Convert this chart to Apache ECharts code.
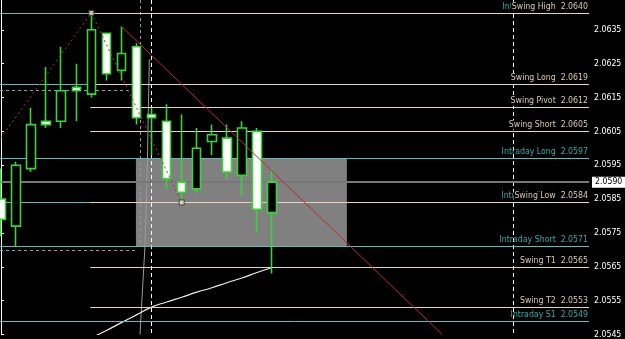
<!DOCTYPE html>
<html><head><meta charset="utf-8">
<script src="https://cdn.jsdelivr.net/npm/echarts@6/dist/echarts.min.js"></script>
<style>html,body{margin:0;padding:0;background:#000}#c{width:625px;height:339px}</style>
</head><body><div id="c"></div>
<script>
// ---- data ----
const candleIndex = [0,1,2,3,4,5,6,7,8,9,10,11,12,13,14,15,16,17,18];
const opens  = [2.0579,2.0595,2.0607,2.0607,2.0617,2.0617,2.0635,2.0622,2.0628,2.0609,2.0609,2.0591,2.0587,2.0600,2.0604,2.0593,2.0606,2.0582,2.0590];
const closes = [2.0585,2.0577,2.0594,2.0608,2.0608,2.0618,2.0616,2.0634,2.0623,2.0630,2.0610,2.0608,2.0590,2.0588,2.0602,2.0603,2.0592,2.0605,2.0581];
const lows   = [2.0574,2.0571,2.0593,2.0606,2.0606,2.0608,2.0615,2.0620,2.0620,2.0607,2.0598,2.0588,2.0584,2.0587,2.0598,2.0591,2.0586,2.0575,2.0563];
const highs  = [2.0594,2.0596,2.0612,2.0624,2.0630,2.0625,2.0640,2.0634,2.0636,2.0631,2.0612,2.0613,2.0610,2.0606,2.0607,2.0607,2.0608,2.0606,2.0594];

const bidPrice = 2.0590;

const swingNames  = ['Swing High','Swing Long','Swing Pivot','Swing Short','Swing Low','Swing T1','Swing T2'];
const swingValues = [2.0640,2.0619,2.0612,2.0605,2.0584,2.0565,2.0553];
const intradayNames  = ['Intraday High','','Intraday Long','Intraday Pivot','Intraday Short','Intraday S1'];
const intradayValues = [2.0640,2.0619,2.0597,2.0584,2.0571,2.0549];

const zoneX = [8.96, 22.97];
const zoneY = [2.0571, 2.0597];

const prevDayHigh = 2.0617, prevDayLow = 2.0570;
const prevDayEndX = [8.45, 8.97, 9.23];

const separatorX = [10, 34];

const zigzagX = [-1, 6, 12];
const zigzagY = [2.0597, 2.0640, 2.0584];

const trendX = [8, 29.3];
const trendY = [2.0636, 2.0545];

const maX = [6,7,8,9,10,11,12,13,14,15,16,17,18];
const maY = [2.05440,2.05462,2.05485,2.05508,2.05531,2.05546,2.05560,2.05575,2.05588,2.05603,2.05617,2.05633,2.05648];

const grayX = [9.23, 9.56, 9.70, 9.80, 9.85];
const grayY = [2.0545, 2.05709, 2.05913, 2.06146, 2.06263];

const X_MIN = -0.0664, X_MAX = 39.05;
const Y_MIN = 2.0545, Y_MAX = 2.06438;

// ---- font selection (narrow font if installed) ----
function fontAvailable(name){
  const c = document.createElement('canvas').getContext('2d');
  const t = 'Intraday Long 2.0597 mmmWWWiii';
  c.font = '40px monospace'; const w1 = c.measureText(t).width;
  c.font = '40px "' + name + '", monospace'; const w2 = c.measureText(t).width;
  c.font = '40px serif'; const w3 = c.measureText(t).width;
  c.font = '40px "' + name + '", serif'; const w4 = c.measureText(t).width;
  return Math.abs(w1 - w2) > 0.5 || Math.abs(w3 - w4) > 0.5;
}
const fontCandidates = ['DejaVu Sans Condensed','Liberation Sans Narrow','Roboto Condensed','Open Sans Condensed','Noto Sans Condensed','Liberation Sans'];
const FONT_NAME = fontCandidates.find(fontAvailable) || 'sans-serif';
const FONT = '"' + FONT_NAME + '", sans-serif';
const FS = (function(){
  const c = document.createElement('canvas').getContext('2d');
  c.font = '11px ' + FONT;
  const w = c.measureText('Intraday Long  2.0597').width;
  return Math.min(11, Math.round(11 * 87 / w * 10) / 10);
})();

// ---- styles ----
const PEACH = '#e6d2bd', PEACH_TXT = '#d9c9b2';
const CYAN = '#5cbdbd', CYAN_TXT = '#35aaaa';
const GREEN = '#3ad43a';
const SWING_START = 5.93;

function zip(xs, ys){ return xs.map((x,i)=>[x, ys[i]]); }

const candleData = candleIndex.map((x,i)=>[x, opens[i], closes[i], lows[i], highs[i]]);

function levelLines(names, values, x0, lineColor, txtColor, bg){
  return values.map((v,i)=>[
    {coord:[x0, v], lineStyle:{color:lineColor, width:1, type:'solid'},
     label:{show: names[i] !== '', position:'insideEndTop', distance:[1,2],
       formatter: names[i] + '  ' + v.toFixed(4), color: txtColor, fontSize:FS, fontFamily:FONT,
       backgroundColor: bg, padding:[0,0,0,1]}},
    {coord:[X_MAX, v]}
  ]);
}

const chart = echarts.init(document.getElementById('c'), null, {renderer:'canvas'});
chart.setOption({
  backgroundColor:'#000',
  animation:false,
  grid:{left:0, right:36, top:0, bottom:0, containLabel:false},
  xAxis:{type:'value', min:X_MIN, max:X_MAX, show:false},
  yAxis:{type:'value', position:'right', min:Y_MIN, max:Y_MAX, interval:0.001,
    axisLine:{show:true, lineStyle:{color:'#ffffff', width:1}},
    axisTick:{show:true, length:3, lineStyle:{color:'#ffffff'}},
    splitLine:{show:false},
    axisLabel:{color:'#ffffff', fontSize:FS, fontFamily:FONT, margin:5, showMaxLabel:false,
      formatter: v => { const s = Math.round(v*10000); return (s % 10 === 5) ? (s/10000).toFixed(4) : ''; }}
  },
  series:[
    { // zone box
      type:'line', data:[], z:1, silent:true,
      markArea:{silent:true, itemStyle:{color:'#808080', opacity:1},
        data:[[{coord:[zoneX[0], zoneY[1]]},{coord:[zoneX[1], zoneY[0]]}]]}
    },
    { // prev day dashed box + separators
      type:'line', data:[], z:2, silent:true,
      markLine:{silent:true, symbol:['none','none'], animation:false, label:{show:false},
        data:[
          [{coord:[X_MIN, prevDayHigh], lineStyle:{color:'#9a9a9a', type:[3,3], width:1}},{coord:[prevDayEndX[0], prevDayHigh]}],
          [{coord:[X_MIN, prevDayLow], lineStyle:{color:'#9a9a9a', type:[3,3], width:1}},{coord:[prevDayEndX[1], prevDayLow]}],
          [{coord:[prevDayEndX[2], Y_MAX], lineStyle:{color:'#9a9a9a', type:[3,3], width:1}},{coord:[prevDayEndX[2], zoneY[0]]}],
          ...separatorX.map(x=>[{coord:[x, Y_MAX], lineStyle:{color:'#ffffff', type:[4,3], width:1}},{coord:[x, Y_MIN]}])
        ]}
    },
    { // intraday levels (cyan)
      type:'line', data:[], z:3, silent:true,
      markLine:{silent:true, symbol:['none','none'], data: levelLines(intradayNames, intradayValues, X_MIN, CYAN, CYAN_TXT, 'transparent')}
    },
    { // bid line
      type:'line', data:[], z:3, silent:true,
      markLine:{silent:true, symbol:['none','none'], data:[[
        {coord:[X_MIN, bidPrice], lineStyle:{color:'#777777', width:2, type:'solid'},
         label:{show:true, position:'end', distance:3, formatter: bidPrice.toFixed(4), color:'#000', backgroundColor:'#fff',
                fontSize:FS, fontFamily:FONT, padding:[1,3,1,3]}},
        {coord:[X_MAX, bidPrice]}]]}
    },
    { // swing levels (peach)
      type:'line', data:[], z:4, silent:true,
      markLine:{silent:true, symbol:['none','none'], data: levelLines(swingNames, swingValues, SWING_START, PEACH, PEACH_TXT, '#000')}
    },
    { // gray steep curve
      type:'line', data: zip(grayX, grayY), z:4, symbol:'none', clip:true, silent:true,
      lineStyle:{color:'#9a9a9a', width:1}
    },
    { // white MA curve
      type:'line', data: zip(maX, maY), z:4, symbol:'none', clip:true, smooth:true, silent:true,
      lineStyle:{color:'#eeeeee', width:1.2}
    },
    { // candles
      type:'candlestick', data: candleData, z:5, barWidth:9, silent:true,
      encode:{x:0, y:[1,2,3,4]},
      itemStyle:{color:'#ffffff', color0:'#000000', borderColor:GREEN, borderColor0:GREEN, borderWidth:1.6}
    },
    { // zigzag
      type:'line', data: zip(zigzagX, zigzagY), z:6, symbol:'none', clip:true, silent:true,
      lineStyle:{color:'#b83434', width:1, type:[2,3]}
    },
    { // zigzag point markers
      type:'scatter', data: zip(zigzagX.slice(1), zigzagY.slice(1)), z:7, symbol:'rect', symbolSize:5, silent:true,
      itemStyle:{color:'#e8dcc6', borderColor:'#333', borderWidth:1}
    },
    { // trend line
      type:'line', data: zip(trendX, trendY), z:6, symbol:'none', clip:true, silent:true,
      lineStyle:{color:'#c02828', width:1}
    }
  ]
});
</script></body></html>
